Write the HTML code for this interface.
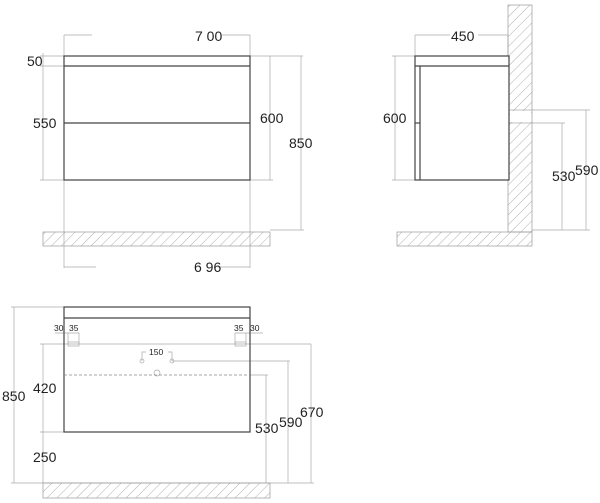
<!DOCTYPE html>
<html><head><style>body{margin:0;background:#fff}svg{display:block}text{font-family:"Liberation Sans",sans-serif;fill:#222}</style></head>
<body>
<svg width="600" height="503" viewBox="0 0 600 503" xmlns="http://www.w3.org/2000/svg">
<defs>
<pattern id="h" width="7" height="7" patternUnits="userSpaceOnUse" patternTransform="rotate(45)"><line x1="0" y1="0" x2="0" y2="7" stroke="#999" stroke-width="0.8"/></pattern>
</defs>
<g stroke="#aaa" stroke-width="0.7" fill="none">
<line x1="64" y1="35" x2="64" y2="268"/><line x1="250" y1="35" x2="250" y2="268"/>
<line x1="64" y1="35" x2="92" y2="35"/><line x1="222" y1="35" x2="250" y2="35"/>
<line x1="64" y1="267" x2="96" y2="267"/><line x1="218" y1="267" x2="250" y2="267"/>
<line x1="43" y1="53" x2="43" y2="180"/><line x1="40" y1="56" x2="64" y2="56"/><line x1="40" y1="66" x2="64" y2="66"/><line x1="40" y1="180" x2="64" y2="180"/>
<line x1="270" y1="56" x2="270" y2="180"/><line x1="250" y1="56" x2="303" y2="56"/><line x1="250" y1="180" x2="273" y2="180"/>
<line x1="301" y1="56" x2="301" y2="230"/><line x1="270" y1="230" x2="304" y2="230"/>
<line x1="415" y1="35" x2="415" y2="56"/><line x1="508" y1="35" x2="508" y2="56"/>
<line x1="415" y1="35" x2="450" y2="35"/><line x1="478" y1="35" x2="508" y2="35"/>
<line x1="395" y1="56" x2="395" y2="180"/><line x1="392" y1="56" x2="415" y2="56"/><line x1="392" y1="180" x2="415" y2="180"/>
<line x1="532" y1="110" x2="590" y2="110"/><line x1="532" y1="123" x2="565" y2="123"/>
<line x1="562" y1="123" x2="562" y2="230"/><line x1="586" y1="110" x2="586" y2="230"/>
<line x1="532" y1="230" x2="590" y2="230"/>
<line x1="509" y1="110" x2="532" y2="110"/><line x1="509" y1="123" x2="532" y2="123"/>
<line x1="14" y1="307" x2="14" y2="483"/><line x1="11" y1="307" x2="64" y2="307"/>
<line x1="43" y1="344" x2="43" y2="483"/><line x1="40" y1="344" x2="311" y2="344"/>
<line x1="40" y1="432" x2="64" y2="432"/>
<line x1="11" y1="483" x2="314" y2="483"/>
<line x1="311" y1="344" x2="311" y2="483"/><line x1="288" y1="361" x2="288" y2="483"/><line x1="266" y1="375" x2="266" y2="483"/>
<line x1="172" y1="361" x2="290" y2="361"/><line x1="250" y1="375" x2="268" y2="375"/>
<line x1="55" y1="333" x2="79" y2="333"/><line x1="68" y1="333" x2="68" y2="344"/><line x1="79" y1="333" x2="79" y2="344"/>
<line x1="235" y1="333" x2="263" y2="333"/><line x1="235" y1="333" x2="235" y2="344"/><line x1="246" y1="333" x2="246" y2="344"/>
<polyline points="142,361 142,352 146,352"/><polyline points="172,361 172,352 168,352"/>
<circle cx="142" cy="361" r="2"/><circle cx="172" cy="361" r="2"/><circle cx="157" cy="373" r="3"/>
<rect x="68" y="342" width="11" height="4"/><rect x="235" y="342" width="11" height="4"/>
</g>
<g stroke="#999" stroke-width="0.7">
<rect x="43" y="232" width="227" height="14" fill="url(#h)"/>
<rect x="397" y="232" width="135" height="14" fill="url(#h)"/>
<rect x="508" y="5" width="24" height="227" fill="url(#h)"/>
<rect x="43" y="483" width="227" height="15" fill="url(#h)"/>
</g>
<rect x="510" y="111" width="21" height="11" fill="#fff"/>
<g stroke="#444" stroke-width="1.2" fill="#fff">
<rect x="64" y="56" width="186" height="124"/><line x1="64" y1="66" x2="250" y2="66"/><line x1="64" y1="123" x2="250" y2="123"/>
<rect x="415" y="56" width="94" height="124"/><line x1="415" y1="66" x2="509" y2="66"/><line x1="420" y1="66" x2="420" y2="180"/><line x1="415" y1="123" x2="420" y2="123"/>
<rect x="64" y="307" width="186" height="125" fill="none"/><line x1="64" y1="318" x2="250" y2="318"/>
</g>
<line x1="64" y1="375" x2="250" y2="375" stroke="#888" stroke-width="0.8" stroke-dasharray="3,2"/>
<g font-size="14">
<text x="195" y="41">7 00</text><text x="27" y="66">50</text><text x="33" y="128">550</text>
<text x="260" y="123">600</text><text x="289" y="148">850</text><text x="194" y="272">6 96</text>
<text x="451" y="41">450</text><text x="383" y="123">600</text><text x="552" y="181">530</text><text x="575" y="175">590</text>
<text x="2" y="401">850</text><text x="33" y="393">420</text><text x="33" y="462">250</text>
<text x="255" y="433">530</text><text x="279" y="427">590</text><text x="300" y="417">670</text>
</g>
<g font-size="8.5">
<text x="54" y="331">30</text><text x="69" y="331">35</text><text x="234" y="331">35</text><text x="250" y="331">30</text>
<text x="149" y="355">150</text>
</g>
</svg>
</body></html>
